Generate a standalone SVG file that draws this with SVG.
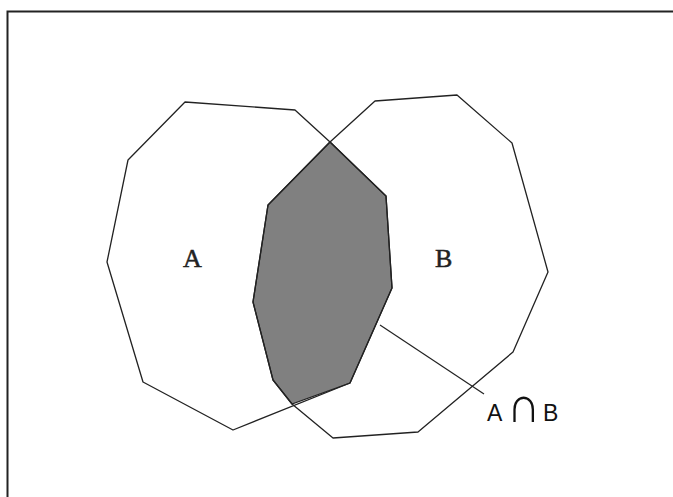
<svg xmlns="http://www.w3.org/2000/svg" width="673" height="497" viewBox="0 0 673 497">
<style>
.set{fill:none;stroke:#222;stroke-width:1.3;stroke-linejoin:round}
.lbl{font-family:"Liberation Serif","Times New Roman",serif;font-size:26px;fill:#222;stroke:#222;stroke-width:0.5}
.op{font-family:"Liberation Sans",sans-serif;font-size:23px;fill:#111}
.cap{font-family:"DejaVu Sans",sans-serif;font-size:42px;font-weight:200;fill:#111}
</style>
<rect x="0" y="0" width="673" height="497" fill="#fff"/>
<path d="M7.5,497 V11.5 H673" fill="none" stroke="#222" stroke-width="2"/>
<g id="intersection">
<polygon points="330,142 386,196 392,288 350,383 292,404 273,380 253,302 268,205" fill="#808080" stroke="#222" stroke-width="1.3"/>
</g>
<g id="setA">
<polygon class="set" points="185,102 295,110 330,142 386,196 392,288 350,383 233,430 143,382 107,262 128,160"/>
<text class="lbl" x="183" y="267">A</text>
</g>
<g id="setB">
<polygon class="set" points="375,101 457,95 512,143 548,272 513,352 418,432 333,438 292,404 273,380 253,302 268,205 330,142"/>
<text class="lbl" x="435" y="267">B</text>
</g>
<g id="connectors">
<line x1="380" y1="325" x2="484" y2="394" stroke="#222" stroke-width="1.2"/>
</g>
<g id="label">
<text class="op" y="421"><tspan x="487">A</tspan><tspan x="543">B</tspan></text>
<text class="cap" transform="translate(507,422) scale(1.1,1.2)">∩</text>
</g>
</svg>
